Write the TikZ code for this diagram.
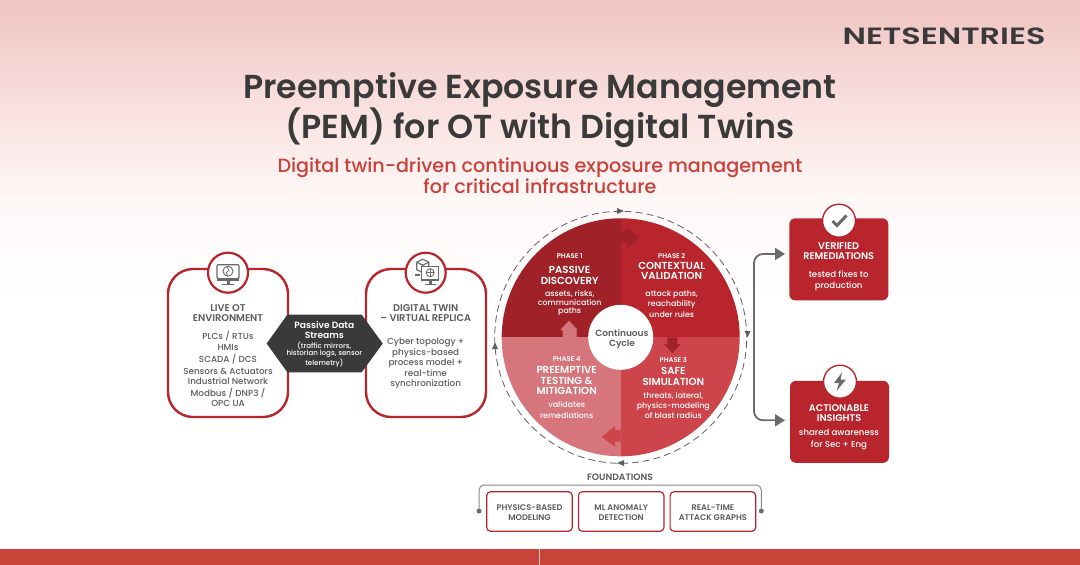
\documentclass[tikz,border=0pt]{standalone}
\usepackage{fontspec}
\setmainfont{Poppins}[UprightFont=* Medium,BoldFont=* SemiBold]
\usetikzlibrary{arrows.meta,shapes.geometric}
\definecolor{ink}{HTML}{3A3A3A}
\definecolor{body}{HTML}{5C5C5C}
\definecolor{redA}{HTML}{B8252C}
\definecolor{qa}{HTML}{A02228}
\definecolor{qb}{HTML}{B8252C}
\definecolor{qc}{HTML}{CE444B}
\definecolor{qd}{HTML}{D6757C}
\definecolor{subc}{HTML}{C8403A}
\definecolor{barc}{HTML}{C94438}
\definecolor{conn}{HTML}{6A6A6A}
\definecolor{bg0}{HTML}{F0C4C2}
\definecolor{bg1}{HTML}{F8DFDD}
\definecolor{bg2}{HTML}{FEF8F7}
\newcommand{\fs}[2]{\fontsize{#1pt}{#2pt}\selectfont}
\tikzset{
  x=1pt,y=-1pt,
  txt/.style={inner sep=0pt,outer sep=0pt,align=center},
  hd/.style={txt,text=body,font=\fs{9.8}{10}\bfseries},
  bd/.style={txt,text=body,font=\fs{8.8}{10.3}},
  phase/.style={txt,text=white,font=\fs{6.8}{7}\bfseries},
  phead/.style={txt,text=white,font=\fs{10.2}{10.6}\bfseries},
  pbody/.style={txt,text=white,font=\fs{7.9}{10.3}},
  whd/.style={txt,text=white,font=\fs{9.7}{10}\bfseries},
  wbd/.style={txt,text=white,font=\fs{8.6}{11.3}},
  card/.style={draw=redA,line width=2.4pt,fill=white,rounded corners=25pt,minimum width=120pt,minimum height=148pt,inner sep=0pt,outer sep=0pt},
  rcard/.style={fill=redA,rounded corners=6pt,minimum width=99pt,minimum height=82pt,inner sep=0pt,outer sep=0pt},
  fbox/.style={draw=redA,line width=1.2pt,fill=white,rounded corners=4pt,minimum width=85.6pt,minimum height=39.6pt,inner sep=0pt,outer sep=0pt},
  flabel/.style={txt,text=body,font=\fs{8.2}{10}\bfseries},
  iconc/.style={circle,draw=redA,line width=2.2pt,fill=white,minimum size=40pt,inner sep=0pt,outer sep=0pt},
  iconr/.style={circle,draw=redA,line width=1.4pt,fill=white,minimum size=33pt,inner sep=0pt,outer sep=0pt},
  dot/.style={circle,fill=conn,minimum size=5pt,inner sep=0pt,outer sep=0pt},
  flow/.style={draw=conn,line width=1.8pt,rounded corners=9pt,-{Triangle[length=10pt,width=12pt]}},
  ico/.style={draw=conn,line width=1.1pt},
}
\begin{document}
\begin{tikzpicture}
\useasboundingbox (0,0) rectangle (1080,565);
% background
\shade[top color=bg0,bottom color=bg1,shading angle=0] (0,0) rectangle (1080,100.5);
\shade[top color=bg1,bottom color=bg2] (0,100) rectangle (1080,200.5);
\shade[top color=bg2,bottom color=white] (0,200) rectangle (1080,300.5);
\fill[white] (0,300) rectangle (1080,549);
\fill[barc] (0,549) rectangle (1080,565);
\draw[white!70!barc,line width=0.6pt] (539,549) -- (539,565);
% logo
\node[txt,text=ink,font=\fs{24}{24}\bfseries,xscale=1.33,yscale=0.98] (logo) at (944,36.5) {NETSENTRIES};
% title
\node[txt,text=ink,font=\fs{33.2}{39}\bfseries] (title) at (540,110) {Preemptive Exposure Management\\(PEM) for OT with Digital Twins};
\node[txt,text=subc,font=\fs{19.15}{21}] (subtitle) at (540,175.5) {Digital twin-driven continuous exposure management\\for critical infrastructure};
% left cards
\node[card] (live) at (228,343) {};
\node[card] (twin) at (426,343) {};
\node[iconc] (liveic) at (228,272.7) {};
\node[iconc] (twinic) at (425.7,272.7) {};
\node[hd] (liveh) at (228,312.7) {LIVE OT\\ENVIRONMENT};
\node[bd] (liveb) at (228,369.2) {PLCs / RTUs\\HMIs\\[2pt]SCADA / DCS\\[1.5pt]Sensors \& Actuators\\Industrial Network\\[1.5pt]Modbus / DNP3 /\\OPC UA};
\node[hd] (twinh) at (425.7,312.7) {DIGITAL TWIN\\– VIRTUAL REPLICA};
\node[bd,font=\fs{8.8}{10.6}] (twinb) at (425.7,363.5) {Cyber topology +\\physics-based\\process model +\\real-time\\synchronization};
% hexagon
\fill[ink] (266.7,343.5) -- (287.3,314.7) -- (361.7,314.7) -- (382.7,343.5) -- (361.7,372.3) -- (287.3,372.3) -- cycle;
\node[txt,text=white,font=\fs{9.1}{10}\bfseries] (hexh) at (324.3,330) {Passive Data\\Streams};
\node[txt,text=white,font=\fs{7.1}{7.7}] (hexb) at (324.3,354.3) {(traffic mirrors,\\historian logs, sensor\\telemetry)};
% icon 1
\begin{scope}[shift={(228,272.7)}]
\draw[ico,rounded corners=1pt] (-11,-8) rectangle (11,6);
\fill[conn] (-11,5) rectangle (11,8);
\draw[ico,line width=0.9pt] (0,-1.5) circle[radius=5pt];
\draw[ico,line width=0.7pt] (-1,-6) -- (1,-2) -- (-2,0) -- (0,3);
\fill[conn] (-1.5,8) rectangle (1.5,11);
\fill[conn] (-6,11) rectangle (6,12.3);
\end{scope}
% icon 2
\begin{scope}[shift={(425.7,272.7)}]
\draw[ico,fill=white,line join=round] (-9,-10.5) -- (-3,-13.5) -- (3,-10.5) -- (3,-3) -- (-3,0) -- (-9,-3) -- cycle;
\draw[ico,line join=round] (-9,-10.5) -- (-3,-7.5) -- (3,-10.5) (-3,-7.5) -- (-3,0);
\draw[ico,fill=white] (-4,-6) rectangle (13,8);
\fill[conn] (-4,6.5) rectangle (13,8.5);
\draw[ico,line width=0.9pt] (4.5,0) circle[radius=4pt];
\draw[ico,line width=0.6pt] (0.5,0) -- (8.5,0) (4.5,-4) -- (4.5,4);
\fill[conn] (3,8.5) rectangle (6,11);
\fill[conn] (-1,11) rectangle (10,12.2);
\fill[conn] (-11,1) rectangle (-6,3);
\end{scope}
% cycle
\coordinate (c) at (620.7,337.3);
\draw[conn!90!black,line width=0.8pt,dash pattern=on 7pt off 4pt] (c) circle[radius=126pt];
\begin{scope}
\clip (c) circle[radius=119pt];
\fill[qa] (500,217) rectangle (620.7,337.3);
\fill[qb] (620.7,217) rectangle (741,337.3);
\fill[qc] (620.7,337.3) rectangle (741,458);
\fill[qd] (500,337.3) rectangle (620.7,458);
\end{scope}
\fill[qa] (620.7,231) -- (627,231) -- (627,226.7) -- (639.3,237.5) -- (627,248) -- (627,242.7) -- (620.7,242.7) -- cycle;
\fill[qa!92!qb] (667.3,337.3) -- (677.3,337.3) -- (677.3,344) -- (680.7,344) -- (672.3,353.3) -- (664,344) -- (667.3,344) -- cycle;
\fill[qc] (620.7,430) -- (615,430) -- (615,426) -- (601.7,437) -- (615,446.7) -- (615,441.7) -- (620.7,441.7) -- cycle;
\fill[qd] (562.7,337.3) -- (576.7,337.3) -- (576.7,330) -- (577.7,330) -- (569,320.7) -- (560.3,330) -- (562.7,330) -- cycle;
\node[circle,fill=white,minimum size=65pt,inner sep=0pt,outer sep=0pt] (core) at (c) {};
\node[txt,text=body,font=\fs{9}{9.8}\bfseries] (corelabel) at (622,339.5) {Continuous\\Cycle};
% ring arrowheads
\fill[conn!90!black] (617,208) -- (624,211) -- (617,214) -- cycle;
\fill[conn!90!black] (744.5,331) -- (750.5,331) -- (747.5,337.5) -- cycle;
\fill[conn!90!black] (624,460) -- (617,463) -- (624,466) -- cycle;
\fill[conn!90!black] (492,349) -- (498,349) -- (495,342.5) -- cycle;
% phases
\node[phase] (p1) at (569.7,255.7) {PHASE 1};
\node[phead] (p1h) at (569.7,275.2) {PASSIVE\\DISCOVERY};
\node[pbody,font=\fs{7.9}{8.4}] (p1b) at (569.7,303.3) {assets, risks,\\communication\\paths};
\node[phase] (p2) at (671.7,255.7) {PHASE 2};
\node[phead] (p2h) at (671.7,270.8) {CONTEXTUAL\\VALIDATION};
\node[pbody] (p2b) at (671.7,304) {attack paths,\\reachability\\under rules};
\node[phase] (p3) at (673.3,359.7) {PHASE 3};
\node[phead] (p3h) at (673.3,376.5) {SAFE\\SIMULATION};
\node[pbody] (p3b) at (673.3,405.5) {threats, lateral,\\physics-modeling\\of blast radius};
\node[phase] (p4) at (566.7,358.7) {PHASE 4};
\node[phead] (p4h) at (566.7,380.7) {PREEMPTIVE\\TESTING \&\\MITIGATION};
\node[pbody,font=\fs{7.9}{11}] (p4b) at (566.7,409.8) {validates\\remediations};
% right cards
\node[rcard] (ver) at (838.8,259.3) {};
\node[rcard] (act) at (839.5,421.8) {};
\node[iconr] (veric) at (839,220.7) {};
\node[iconr] (actic) at (840,381.7) {};
\draw[conn,line width=3pt,line join=miter] (832.5,221) -- (837,225.5) -- (846.5,215.5);
\fill[conn] (842,372.5) -- (834,383) -- (839,383) -- (836.5,391) -- (846,379.5) -- (840.5,379.5) -- cycle;
\node[whd] (verh) at (838.7,251) {VERIFIED\\REMEDIATIONS};
\node[wbd] (verb) at (838.7,280.5) {tested fixes to\\production};
\node[whd] (acth) at (839,413) {ACTIONABLE\\INSIGHTS};
\node[wbd] (actb) at (839,439.5) {shared awareness\\for Sec + Eng};
% outcome connectors
\coordinate (hub) at (754,337);
\coordinate (verin) at (785,254);
\coordinate (actin) at (785,420.3);
\draw[flow] (hub) |- (verin);
\draw[flow] (hub) |- (actin);
% foundations
\node[txt,text=body,font=\fs{9.2}{10}\bfseries] (found) at (620,477) {FOUNDATIONS};
\node[fbox] (f1) at (529.5,511.5) {};
\node[fbox] (f2) at (621.2,511.5) {};
\node[fbox] (f3) at (712.9,511.5) {};
\node[flabel] (f1t) at (529.5,512.6) {PHYSICS-BASED\\MODELING};
\node[flabel] (f2t) at (621.2,512.6) {ML ANOMALY\\DETECTION};
\node[flabel] (f3t) at (712.9,512.6) {REAL-TIME\\ATTACK GRAPHS};
\node[dot] (dl) at (479,511) {};
\node[dot] (dr) at (761.3,511) {};
\draw[conn!80!white,line width=1pt,rounded corners=5pt] (dl) -- (479,485) -- (761.3,485) -- (dr);
\end{tikzpicture}
\end{document}
